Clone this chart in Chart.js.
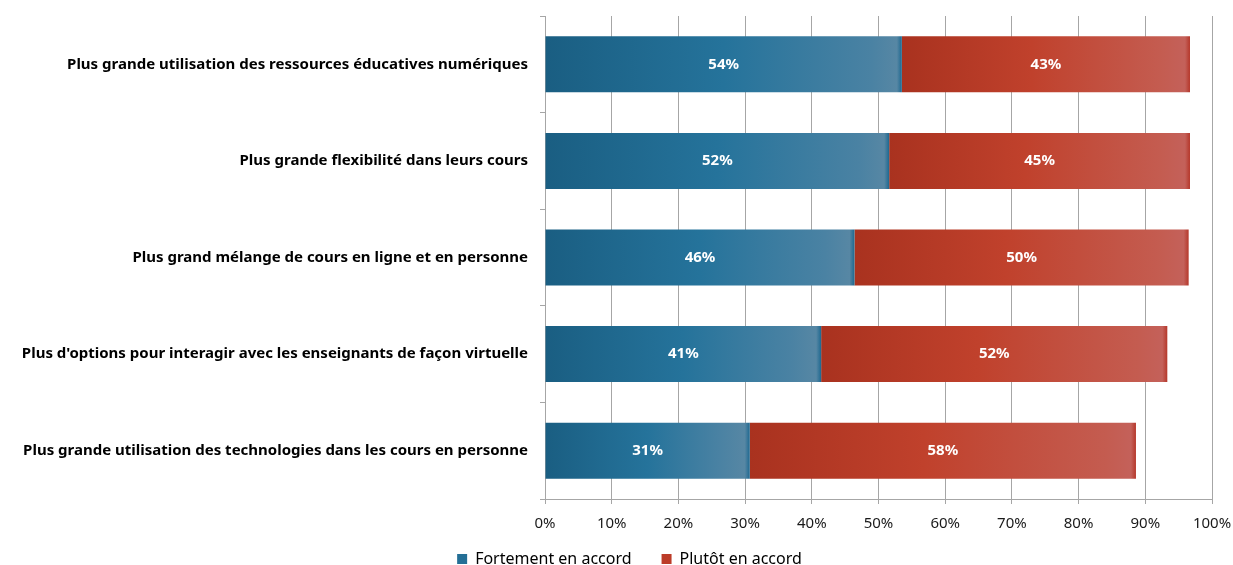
<!DOCTYPE html>
<html>
<head>
<meta charset="utf-8">
<script src="https://cdn.jsdelivr.net/npm/chart.js@4"></script>
<style>
html,body{margin:0;padding:0;background:#fff;}
#wrap{width:1233px;height:565px;position:relative;}
</style>
</head>
<body>
<div id="wrap"><canvas id="c" width="1233" height="565"></canvas></div>
<script>
const categories = [
  "Plus grande utilisation des ressources éducatives numériques",
  "Plus grande flexibilité dans leurs cours",
  "Plus grand mélange de cours en ligne et en personne",
  "Plus d'options pour interagir avec les enseignants de façon virtuelle",
  "Plus grande utilisation des technologies dans les cours en personne"
];
const seriesNames = ["Fortement en accord", "Plutôt en accord"];
const fortement = [53.5, 51.6, 46.4, 41.4, 30.7];
const plutot = [43.2, 45.1, 50.1, 51.9, 57.9];
const tickValues = [0,10,20,30,40,50,60,70,80,90,100];

const FONT = '"Noto Sans", "Open Sans", "DejaVu Sans", sans-serif';

const palettes = [
  {solid:'#246f96', stops:[[0,'#1a5e82'],[0.5,'#25739b'],[0.93,'#4a82a3'],[0.985,'#5787a4'],[1,'#1d6890']]},
  {solid:'#bc3c28', stops:[[0,'#a9321f'],[0.45,'#c0412c'],[0.93,'#c45c50'],[0.985,'#c4615a'],[1,'#b5372a']]}
];

function makeGrad(ctx, dsIndex){
  const chart = ctx.chart;
  const pal = palettes[dsIndex];
  if (!chart.chartArea || ctx.dataIndex === undefined) return pal.solid;
  const x = chart.scales.x;
  const i = ctx.dataIndex;
  const start = dsIndex === 0 ? 0 : fortement[i];
  const end = start + (dsIndex === 0 ? fortement[i] : plutot[i]);
  const x0 = x.getPixelForValue(start), x1 = x.getPixelForValue(end);
  if (!isFinite(x0) || !isFinite(x1) || x1 - x0 < 2) return pal.solid;
  const g = chart.ctx.createLinearGradient(x0, 0, x1, 0);
  const w = x1 - x0;
  g.addColorStop(0, pal.stops[0][1]);
  g.addColorStop(pal.stops[1][0], pal.stops[1][1]);
  g.addColorStop(Math.max(0, 1 - 30 / w), pal.stops[2][1]);
  g.addColorStop(Math.max(0, 1 - 5 / w), pal.stops[3][1]);
  g.addColorStop(1, pal.stops[4][1]);
  return g;
}

const labelPlugin = {
  id: 'valueLabels',
  afterDatasetsDraw(chart){
    const c = chart.ctx;
    c.save();
    c.font = 'bold 15px ' + FONT;
    c.fillStyle = '#ffffff';
    c.textAlign = 'center';
    c.textBaseline = 'middle';
    chart.data.datasets.forEach((ds, di) => {
      const meta = chart.getDatasetMeta(di);
      meta.data.forEach((el, i) => {
        const p = el.getProps(['x','y','base'], true);
        const cx = (p.x + p.base) / 2;
        c.fillText(Math.round(ds.data[i]) + '%', cx, p.y);
      });
    });
    c.restore();
  }
};

const legendShift = {
  id: 'legendShift',
  afterLayout(chart){
    const lg = chart.legend;
    if (lg) { lg.top -= 18; lg.bottom -= 18; lg.left += 13; lg.right += 13; }
  }
};

new Chart(document.getElementById('c'), {
  type: 'bar',
  data: {
    labels: categories,
    datasets: [
      {label: seriesNames[0], data: fortement, backgroundColor: (ctx) => makeGrad(ctx, 0), borderWidth: 0, categoryPercentage: 0.58, barPercentage: 1},
      {label: seriesNames[1], data: plutot, backgroundColor: (ctx) => makeGrad(ctx, 1), borderWidth: 0, categoryPercentage: 0.58, barPercentage: 1}
    ]
  },
  options: {
    indexAxis: 'y',
    responsive: false,
    animation: false,
    devicePixelRatio: 1,
    layout: {padding: {top: 16, right: 0, left: 0, bottom: -30}},
    plugins: {
      tooltip: {enabled: false},
      legend: {
        position: 'bottom',
        labels: {
          boxWidth: 10, boxHeight: 10, padding: 30,
          color: '#404040',
          font: {family: FONT, size: 16},
          generateLabels(chart){
            return chart.data.datasets.map((ds, i) => ({
              text: ds.label, fillStyle: palettes[i].solid, strokeStyle: palettes[i].solid,
              lineWidth: 0, hidden: false, datasetIndex: i
            }));
          }
        }
      }
    },
    scales: {
      x: {
        stacked: true, min: 0, max: 100,
        afterBuildTicks(scale){ scale.ticks = tickValues.map(v => ({value: v})); },
        ticks: {
          callback: (v) => v + '%',
          color: '#1a1a1a',
          font: {family: FONT, size: 15},
          padding: 11, maxRotation: 0, autoSkip: false
        },
        grid: {color: '#a6a6a6', lineWidth: 1, tickLength: 5, drawTicks: true},
        border: {color: '#a6a6a6'},
        afterFit(scale){ scale.height = 40; scale.paddingRight = 21; scale.paddingLeft = 0; }
      },
      y: {
        stacked: true,
        ticks: {
          color: '#000000',
          font: {family: FONT, size: 15, weight: 'bold'},
          padding: 12
        },
        grid: {offset: true, drawOnChartArea: false, drawTicks: true, tickLength: 5, color: '#a6a6a6'},
        border: {color: '#a6a6a6'},
        afterFit(scale){ scale.width = 545; scale.paddingTop = 0; scale.paddingBottom = 0; }
      }
    }
  },
  plugins: [labelPlugin, legendShift]
});
</script>
</body>
</html>
